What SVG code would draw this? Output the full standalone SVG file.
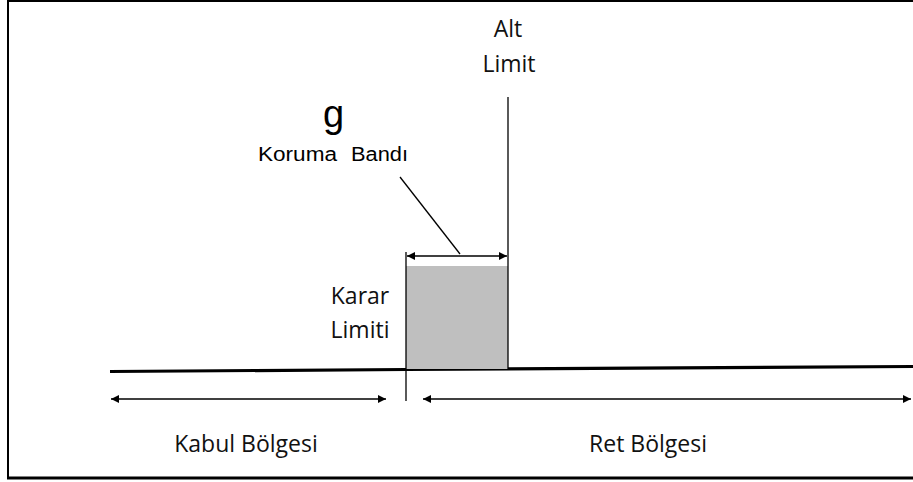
<svg xmlns="http://www.w3.org/2000/svg" width="913" height="482" viewBox="0 0 913 482">
<style>
.lbl{font-family:"Open Sans","Liberation Sans",sans-serif;font-size:23px;fill:#111}
.ar{font-family:"Liberation Sans",Arial,sans-serif;fill:#000}
.thin{stroke:#000;stroke-width:1.3;fill:none}
.arr{stroke:#000;stroke-width:1.3;fill:none;marker-start:url(#ah);marker-end:url(#ah)}
</style>
<defs>
<marker id="ah" viewBox="0 0 10 10" refX="10" refY="5" markerWidth="10" markerHeight="8" markerUnits="userSpaceOnUse" orient="auto-start-reverse">
<path d="M0,0 L10,5 L0,10 Z" fill="#000"/>
</marker>
</defs>
<rect width="913" height="482" fill="#fff"/>
<g id="frame">
<line x1="8" y1="0" x2="8" y2="479" stroke="#000" stroke-width="2"/>
<line x1="8" y1="1" x2="913" y2="1" stroke="#000" stroke-width="2"/>
<line x1="7" y1="478" x2="913" y2="478" stroke="#000" stroke-width="3"/>
</g>
<g id="axis">
<path d="M110,371.5 L406,369.5 L913,366.5" stroke="#000" stroke-width="3.2" fill="none"/>
</g>
<g id="band">
<rect x="406" y="266" width="102" height="103" fill="#bfbfbf"/>
</g>
<g id="connectors">
<line class="thin" x1="406" y1="252" x2="406" y2="401"/>
<line class="thin" x1="508" y1="97" x2="508" y2="369"/>
<line class="arr" x1="407" y1="256" x2="507" y2="256"/>
<line class="thin" x1="400" y1="177" x2="460" y2="254"/>
<line class="arr" x1="111" y1="399" x2="386" y2="399"/>
<line class="arr" x1="423" y1="399" x2="911" y2="399"/>
</g>
<g id="alt-limit">
<text class="lbl" x="508" y="37" text-anchor="middle">Alt</text>
<text class="lbl" x="509" y="72" text-anchor="middle">Limit</text>
</g>
<g id="koruma-bandi">
<text class="ar" x="333.5" y="127" font-size="38" text-anchor="middle">g</text>
<text class="ar" x="258" y="161" font-size="20" textLength="79" lengthAdjust="spacingAndGlyphs">Koruma</text>
<text class="ar" x="351" y="161" font-size="20" textLength="57" lengthAdjust="spacingAndGlyphs">Bandı</text>
</g>
<g id="karar-limiti">
<text class="lbl" x="360" y="304" text-anchor="middle">Karar</text>
<text class="lbl" x="360" y="338" text-anchor="middle">Limiti</text>
</g>
<g id="kabul">
<text class="lbl" x="246" y="452" text-anchor="middle">Kabul Bölgesi</text>
</g>
<g id="ret">
<text class="lbl" x="648" y="452" text-anchor="middle">Ret Bölgesi</text>
</g>
</svg>
